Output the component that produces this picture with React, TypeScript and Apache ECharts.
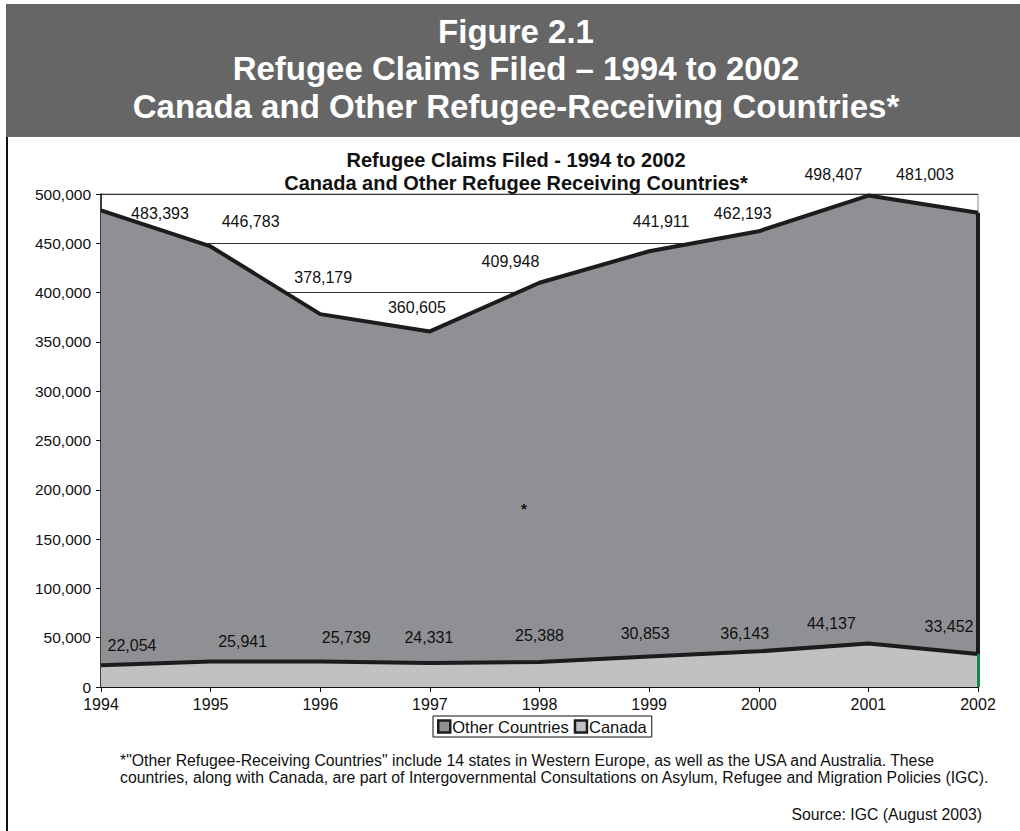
import React, { useEffect, useRef } from "react";
import * as echarts from "echarts";

// Claims filed per year
const years = ["1994", "1995", "1996", "1997", "1998", "1999", "2000", "2001", "2002"];
const otherCountries = [483393, 446783, 378179, 360605, 409948, 441911, 462193, 498407, 481003];
const canada = [22054, 25941, 25739, 24331, 25388, 30853, 36143, 44137, 33452];

// Hand-placed value label nudges (pixels, relative to the point)
const otherLabelNudge: [number, number][] = [
  [59, 11], [40, -17], [3, -29], [-13, -16], [-29, -13], [12, -22], [-16, -10], [-35, -13], [-53, -30],
];
const canadaLabelNudge: [number, number][] = [
  [31, -12], [32, -12], [26, -16], [-1, -18], [0, -18], [-4, -15], [-14, -10], [-37, -12], [-29, -20],
];

const headerLines = [
  "Figure 2.1",
  "Refugee Claims Filed \u2013 1994 to 2002",
  "Canada and Other Refugee-Receiving Countries*",
];
const chartTitle = "Refugee Claims Filed - 1994 to 2002";
const chartSubtitle = "Canada and Other Refugee Receiving Countries*";
const footnote = [
  "*\"Other Refugee-Receiving Countries\" include 14 states in Western Europe, as well as the USA and Australia. These",
  "countries, along with Canada, are part of Intergovernmental Consultations on Asylum, Refugee and Migration Policies (IGC).",
];
const source = "Source: IGC (August 2003)";

const FONT = "Arial, 'Liberation Sans', Helvetica, sans-serif";
const OTHER_FILL = "#8f9094";
const CANADA_FILL = "#c1c1c3";
const LINE_DARK = "#1c1c1c";
const LAST = years[years.length - 1];

const fmt = (v: number) => v.toLocaleString("en-US");

export default function App() {
  const ref = useRef<HTMLDivElement>(null);

  useEffect(() => {
    if (!ref.current) return;
    const chart = echarts.init(ref.current, undefined, { renderer: "svg" });

    const labelBase = {
      show: true,
      position: "top" as const,
      distance: 0,
      color: "#111",
      fontFamily: FONT,
      fontSize: 16,
      formatter: (p: any) => fmt(p.value),
    };

    chart.setOption({
      animation: false,
      backgroundColor: "#ffffff",
      textStyle: { fontFamily: FONT },
      grid: {
        left: 101,
        right: 42,
        top: 194,
        bottom: 144,
        show: true,
        borderColor: "#8a8a8a",
        borderWidth: 1,
        backgroundColor: "transparent",
      },
      legend: {
        left: 433,
        top: 716,
        orient: "horizontal",
        itemWidth: 12,
        itemHeight: 12,
        itemGap: 5,
        padding: [2, 5, 2, 4],
        borderColor: "#111",
        borderWidth: 1,
        icon: "rect",
        textStyle: { fontFamily: FONT, fontSize: 16.5, color: "#111", padding: [0, 0, 0, -3] },
        data: [
          { name: "Other Countries", itemStyle: { color: OTHER_FILL, borderColor: LINE_DARK, borderWidth: 2.5 } },
          { name: "Canada", itemStyle: { color: CANADA_FILL, borderColor: LINE_DARK, borderWidth: 2.5 } },
        ],
      },
      xAxis: {
        type: "category",
        data: years,
        boundaryGap: false,
        axisLine: { lineStyle: { color: "#111", width: 2 } },
        axisTick: { show: true, length: 5, lineStyle: { color: "#111" } },
        axisLabel: { color: "#111", fontFamily: FONT, fontSize: 16, margin: 9 },
        splitLine: { show: false },
      },
      yAxis: {
        type: "value",
        min: 0,
        max: 500000,
        interval: 50000,
        axisLine: { show: true, lineStyle: { color: "#111", width: 1.5 } },
        axisTick: { show: true, length: 5, lineStyle: { color: "#111" } },
        axisLabel: { color: "#111", fontFamily: FONT, fontSize: 15.5, margin: 10, formatter: (v: number) => fmt(v) },
        splitLine: { show: true, lineStyle: { color: "#333", width: 1 } },
      },
      series: [
        {
          name: "Other Countries",
          type: "line",
          data: otherCountries.map((v, i) => ({ value: v, label: { offset: otherLabelNudge[i] } })),
          symbol: "circle",
          symbolSize: 0,
          showSymbol: true,
          lineStyle: { color: LINE_DARK, width: 4 },
          itemStyle: { color: OTHER_FILL },
          areaStyle: { color: OTHER_FILL, opacity: 1 },
          label: labelBase,
          z: 2,
          // closing edge of the area at the last year
          markLine: {
            silent: true,
            symbol: ["none", "none"],
            label: { show: false },
            lineStyle: { color: LINE_DARK, width: 4, type: "solid" },
            data: [[
              { coord: [LAST, otherCountries[otherCountries.length - 1]] },
              { coord: [LAST, canada[canada.length - 1]] },
            ]],
          },
        },
        {
          name: "Canada",
          type: "line",
          data: canada.map((v, i) => ({ value: v, label: { offset: canadaLabelNudge[i] } })),
          symbol: "circle",
          symbolSize: 0,
          showSymbol: true,
          lineStyle: { color: LINE_DARK, width: 4 },
          itemStyle: { color: CANADA_FILL },
          areaStyle: { color: CANADA_FILL, opacity: 1 },
          label: labelBase,
          z: 3,
          markLine: {
            silent: true,
            symbol: ["none", "none"],
            label: { show: false },
            lineStyle: { color: "#0f8a4a", width: 3, type: "solid" },
            data: [[
              { coord: [LAST, canada[canada.length - 1]] },
              { coord: [LAST, 0] },
            ]],
          },
        },
      ],
      graphic: [
        // header band
        { type: "rect", left: 6, top: 4, shape: { width: 1014, height: 133 }, style: { fill: "#666666" }, z: 0 },
        ...headerLines.map((t, i) => ({
          type: "text",
          x: 516,
          y: 31 + i * 37.5,
          style: {
            text: t,
            fill: "#ffffff",
            font: `bold 33px ${FONT}`,
            align: "center",
            verticalAlign: "middle",
          },
          z: 1,
        })),
        // left frame rule
        { type: "line", shape: { x1: 7, y1: 137, x2: 7, y2: 831 }, style: { stroke: "#111", lineWidth: 2 }, z: 1 },
        // chart titles
        {
          type: "text",
          x: 516,
          y: 160,
          style: { text: chartTitle, fill: "#111", font: `bold 20px ${FONT}`, align: "center", verticalAlign: "middle" },
        },
        {
          type: "text",
          x: 516,
          y: 183,
          style: { text: chartSubtitle, fill: "#111", font: `bold 20px ${FONT}`, align: "center", verticalAlign: "middle" },
        },
        // stray asterisk inside the plot
        {
          type: "text",
          x: 524,
          y: 508,
          style: { text: "*", fill: "#111", font: `bold 15px ${FONT}`, align: "center", verticalAlign: "middle" },
          z: 10,
        },
        // footnote + source
        ...footnote.map((t, i) => ({
          type: "text",
          x: 120,
          y: 760 + i * 17,
          style: { text: t, fill: "#111", font: `15.8px ${FONT}`, align: "left", verticalAlign: "middle" },
        })),
        {
          type: "text",
          x: 982,
          y: 814,
          style: { text: source, fill: "#111", font: `15.8px ${FONT}`, align: "right", verticalAlign: "middle" },
        },
      ],
    });

    return () => chart.dispose();
  }, []);

  return (
    <div style={{ position: "fixed", left: 0, top: 0, width: 1020, height: 831, background: "#fff" }}>
      <div ref={ref} style={{ width: 1020, height: 831 }} />
    </div>
  );
}
